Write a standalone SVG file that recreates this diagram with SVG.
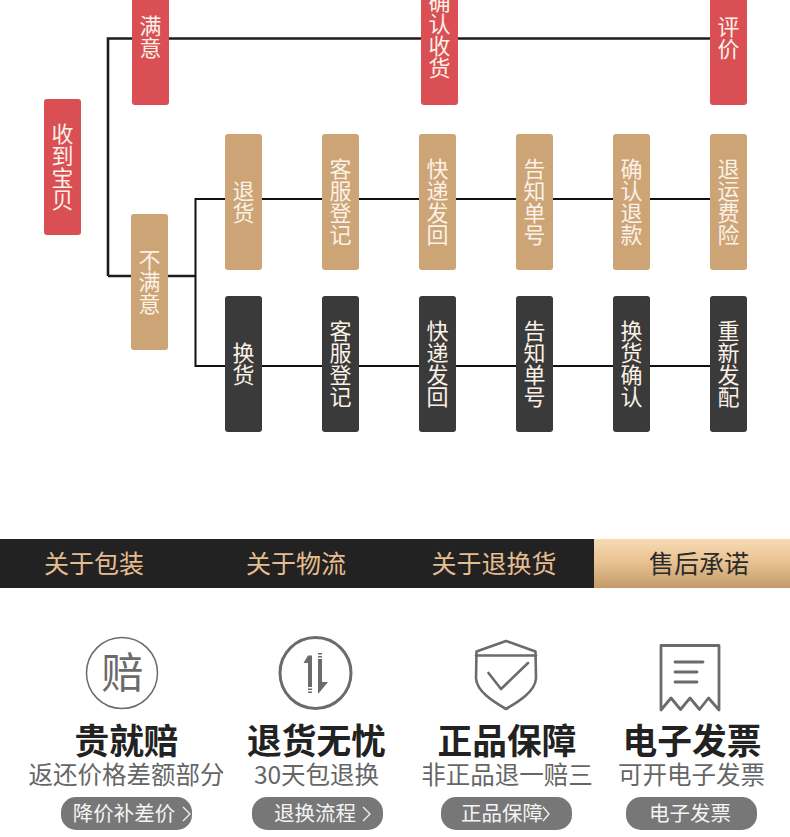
<svg xmlns="http://www.w3.org/2000/svg" width="790" height="837" viewBox="0 0 790 837">
<style>
text{font-family:"Noto Sans CJK SC","Noto Sans",sans-serif}
.n{font-size:22px;fill:#fbf1e6;writing-mode:vertical-rl;text-anchor:middle;font-weight:400}
.r{fill:#d94f54}.t{fill:#cca475}.d{fill:#3a3a3a}
.l{stroke:#1c1c1c;fill:none;stroke-width:2.600}
.l2{stroke:#111;fill:none;stroke-width:2}
.tab{font-size:25px;text-anchor:middle;fill:#e6bd90;font-weight:400}
.h{font-size:34.700px;font-weight:700;fill:#222;text-anchor:middle}
.s{font-size:24.500px;fill:#666;text-anchor:middle;font-weight:400}
.b{fill:#777}
.bt{font-size:20.500px;fill:#f4f4f4;text-anchor:middle;font-weight:400}
.ic{fill:none;stroke:#6b6b6b;stroke-linejoin:round;stroke-linecap:round}
.ch{fill:none;stroke:#f4f4f4;stroke-width:1.300}
</style>
<defs><linearGradient id="g" x1="0" y1="0" x2="0" y2="1"><stop offset="0" stop-color="#f8dbb3"/><stop offset=".5" stop-color="#e6c091"/><stop offset="1" stop-color="#c49a68"/></linearGradient></defs>
<rect width="790" height="837" fill="#fff"/>
<g id="connectors">
<path class="l" d="M108 276V38.500H710M108 276H196"/>
<path class="l2" d="M195.500 276V199H710M195.500 276V366H710"/>
</g>
<g id="n-received"><rect class="r" x="44" y="99" width="37" height="136" rx="3"/><text class="n" x="62.500" y="167">收到宝贝</text></g>
<g id="n-satisfied"><rect class="r" x="132" y="-20" width="37" height="125" rx="3"/><text class="n" x="150.500" y="37">满意</text></g>
<g id="n-confirm"><rect class="r" x="421" y="-20" width="37" height="125" rx="3"/><text class="n" x="439.500" y="35">确认收货</text></g>
<g id="n-rate"><rect class="r" x="710" y="-20" width="37" height="125" rx="3"/><text class="n" x="728.500" y="37.500">评价</text></g>
<g id="n-unsatisfied"><rect class="t" x="131" y="214" width="37" height="136" rx="3"/><text class="n" x="149.500" y="282">不满意</text></g>
<g id="n-a1"><rect class="t" x="225" y="134" width="37" height="136" rx="3"/><text class="n" x="243.500" y="202">退货</text></g>
<g id="n-a2"><rect class="t" x="322" y="134" width="37" height="136" rx="3"/><text class="n" x="340.500" y="202">客服登记</text></g>
<g id="n-a3"><rect class="t" x="419" y="134" width="37" height="136" rx="3"/><text class="n" x="437.500" y="202">快递发回</text></g>
<g id="n-a4"><rect class="t" x="516" y="134" width="37" height="136" rx="3"/><text class="n" x="534.500" y="202">告知单号</text></g>
<g id="n-a5"><rect class="t" x="613" y="134" width="37" height="136" rx="3"/><text class="n" x="631.500" y="202">确认退款</text></g>
<g id="n-a6"><rect class="t" x="710" y="134" width="37" height="136" rx="3"/><text class="n" x="728.500" y="202">退运费险</text></g>
<g id="n-b1"><rect class="d" x="225" y="296" width="37" height="136" rx="3"/><text class="n" x="243.500" y="364">换货</text></g>
<g id="n-b2"><rect class="d" x="322" y="296" width="37" height="136" rx="3"/><text class="n" x="340.500" y="364">客服登记</text></g>
<g id="n-b3"><rect class="d" x="419" y="296" width="37" height="136" rx="3"/><text class="n" x="437.500" y="364">快递发回</text></g>
<g id="n-b4"><rect class="d" x="516" y="296" width="37" height="136" rx="3"/><text class="n" x="534.500" y="364">告知单号</text></g>
<g id="n-b5"><rect class="d" x="613" y="296" width="37" height="136" rx="3"/><text class="n" x="631.500" y="364">换货确认</text></g>
<g id="n-b6"><rect class="d" x="710" y="296" width="37" height="136" rx="3"/><text class="n" x="728.500" y="364">重新发配</text></g>
<g id="tabs">
<rect x="0" y="539" width="594" height="49" fill="#222"/>
<rect x="594" y="539" width="196" height="49" fill="url(#g)"/>
<text class="tab" x="94" y="573">关于包装</text>
<text class="tab" x="296" y="573">关于物流</text>
<text class="tab" x="494" y="573">关于退换货</text>
<text class="tab" x="699" y="573" style="fill:#2a2a2a">售后承诺</text>
</g>
<g id="c1">
<circle class="ic" cx="122" cy="673" r="35.500" stroke-width="1.500"/>
<text x="122.500" y="688" font-size="42" text-anchor="middle" fill="#6b6b6b" font-weight="400">赔</text>
<text class="h" x="126.500" y="754">贵就赔</text>
<text class="s" x="126.500" y="784">返还价格差额部分</text>
<rect class="b" x="61" y="797" width="131" height="33" rx="15"/>
<text class="bt" x="124" y="821">降价补差价</text>
<path class="ch" d="M183 807l7 7-7 7"/>
</g>
<g id="c2">
<circle class="ic" cx="315.500" cy="673" r="35.500" stroke-width="3"/>
<path d="M308 655.500h4v31.500h-4v-24h-4.500z" fill="#6b6b6b"/>
<path d="M308 688.500h4v1.500h-4zM308 691.500h4v1.500h-4z" fill="#6b6b6b"/>
<path d="M318 653h4v1.500h-4zM318 656h4v1.500h-4z" fill="#6b6b6b"/>
<path d="M318 659h4v23h6l-9.500 11.500h-.500z" fill="#6b6b6b"/>
<text class="h" x="316.500" y="754">退货无忧</text>
<text class="s" x="316.500" y="784">30天包退换</text>
<rect class="b" x="252" y="797" width="131" height="33" rx="15"/>
<text class="bt" x="315" y="821">退换流程</text>
<path class="ch" d="M363 807l7 7-7 7"/>
</g>
<g id="c3">
<path class="ic" stroke-width="2.600" d="M506 641l29.500 10.500 .5 27c-1 13-17 23-30 30.500-13-7.500-29-17.500-30-30.500l.5-27z"/>
<path class="ic" stroke-width="2.600" d="M476 655.500h60"/>
<path class="ic" stroke-width="2.600" d="M488.500 673l12.500 16 27-26"/>
<text class="h" x="507" y="754">正品保障</text>
<text class="s" x="507" y="784">非正品退一赔三</text>
<rect class="b" x="441" y="797" width="131" height="33" rx="15"/>
<text class="bt" x="502" y="821">正品保障</text>
<path class="ch" d="M543 807l6 7-6 7"/>
</g>
<g id="c4">
<path class="ic" stroke-width="2.800" d="M661 710V645.500H719V710L708.500 698 699.500 709.500 690 698 680.500 709.500 671 698z"/>
<path class="ic" stroke-width="2.800" d="M675 662h28M675 672h22M675 682h22"/>
<text class="h" x="692" y="754">电子发票</text>
<text class="s" x="691.500" y="784">可开电子发票</text>
<rect class="b" x="626" y="797" width="131" height="33" rx="15"/>
<text class="bt" x="690" y="821">电子发票</text>
</g>
</svg>
